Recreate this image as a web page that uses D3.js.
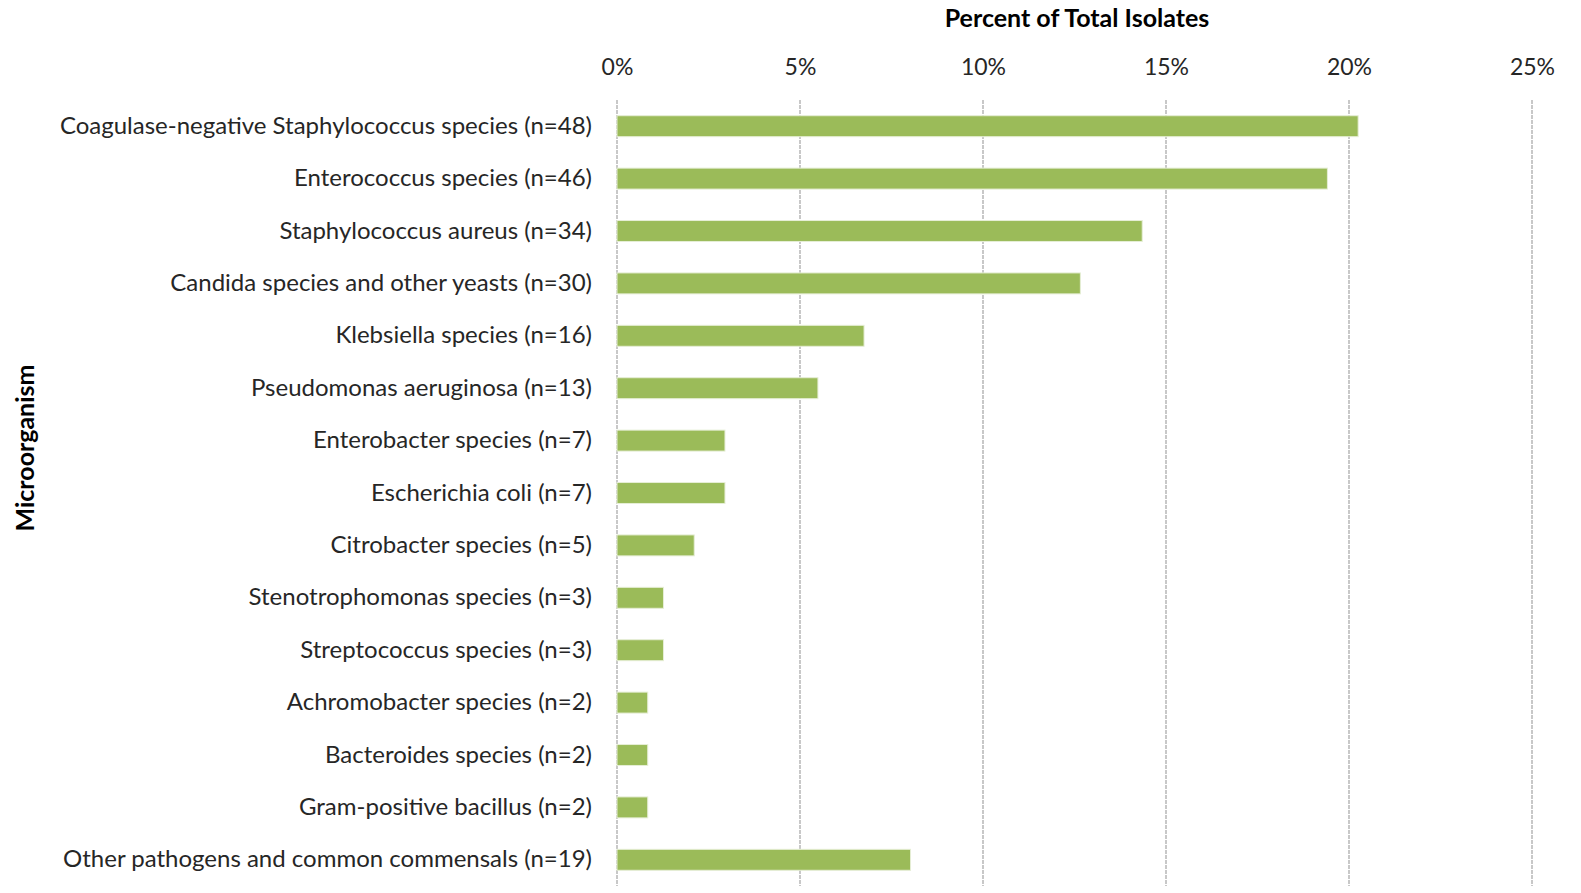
<!DOCTYPE html>
<html>
<head>
<meta charset="utf-8">
<script src="https://cdn.jsdelivr.net/npm/d3@7"></script>
<style>
  html, body { margin: 0; background: #fff; overflow: hidden; }
  svg { display: block; }
</style>
</head>
<body>
<svg></svg>
<script>
// data
const organisms = [
  'Coagulase-negative Staphylococcus species (n=48)',
  'Enterococcus species (n=46)',
  'Staphylococcus aureus (n=34)',
  'Candida species and other yeasts (n=30)',
  'Klebsiella species (n=16)',
  'Pseudomonas aeruginosa (n=13)',
  'Enterobacter species (n=7)',
  'Escherichia coli (n=7)',
  'Citrobacter species (n=5)',
  'Stenotrophomonas species (n=3)',
  'Streptococcus species (n=3)',
  'Achromobacter species (n=2)',
  'Bacteroides species (n=2)',
  'Gram-positive bacillus (n=2)',
  'Other pathogens and common commensals (n=19)'
];
const percents = [20.25, 19.41, 14.35, 12.66, 6.75, 5.49, 2.95, 2.95, 2.11, 1.27, 1.27, 0.84, 0.84, 0.84, 8.02];
const tickValues = [0, 5, 10, 15, 20, 25];

const width = 1581;
const height = 893;
const left = 617;
const right = 1532;
const top_ = 100;
const bottom = 886;
const font = 'Lato, "Open Sans", sans-serif';

const svg = d3.select('svg')
  .attr('width', width)
  .attr('height', height);

const x = d3.scaleLinear().domain([0, 25]).range([left, right]);
const y = d3.scaleBand().domain(organisms).range([top_, bottom]).paddingInner(0.6).paddingOuter(0.3);

// grid lines
svg.append('g')
  .selectAll('line')
  .data(tickValues)
  .enter()
  .append('line')
  .attr('x1', d => x(d))
  .attr('x2', d => x(d))
  .attr('y1', top_)
  .attr('y2', bottom)
  .attr('stroke', '#c8c8c8')
  .attr('stroke-width', 2)
  .attr('stroke-dasharray', '4,1');

// top axis labels
const xAxis = d3.axisTop(x)
  .tickValues(tickValues)
  .tickFormat(d => d + '%')
  .tickSize(0)
  .tickPadding(0);

svg.append('g')
  .attr('transform', 'translate(0,75)')
  .call(xAxis)
  .call(g => g.select('.domain').remove())
  .selectAll('text')
  .attr('fill', '#262626')
  .attr('font-family', font)
  .attr('font-size', '23px');

// bars
svg.append('g')
  .selectAll('rect')
  .data(percents)
  .enter()
  .append('rect')
  .attr('x', x(0))
  .attr('y', (d, i) => y(organisms[i]))
  .attr('width', d => x(d) - x(0))
  .attr('height', y.bandwidth())
  .attr('fill', '#9bbb59')
  .attr('stroke', '#e6eed6')
  .attr('stroke-width', 1);

// category labels
const yAxis = d3.axisLeft(y).tickSize(0).tickPadding(0);
svg.append('g')
  .attr('transform', 'translate(592,0)')
  .call(yAxis)
  .call(g => g.select('.domain').remove())
  .selectAll('text')
  .attr('fill', '#262626')
  .attr('font-family', font)
  .attr('font-size', '24px');

// titles
svg.append('text')
  .text('Percent of Total Isolates')
  .attr('x', 1077)
  .attr('y', 27)
  .attr('text-anchor', 'middle')
  .attr('font-family', font)
  .attr('font-weight', 700)
  .attr('font-size', '25px')
  .attr('fill', '#000');

svg.append('text')
  .text('Microorganism')
  .attr('transform', 'translate(34,448) rotate(-90)')
  .attr('text-anchor', 'middle')
  .attr('font-family', font)
  .attr('font-weight', 700)
  .attr('font-size', '25px')
  .attr('fill', '#000');
</script>
</body>
</html>
